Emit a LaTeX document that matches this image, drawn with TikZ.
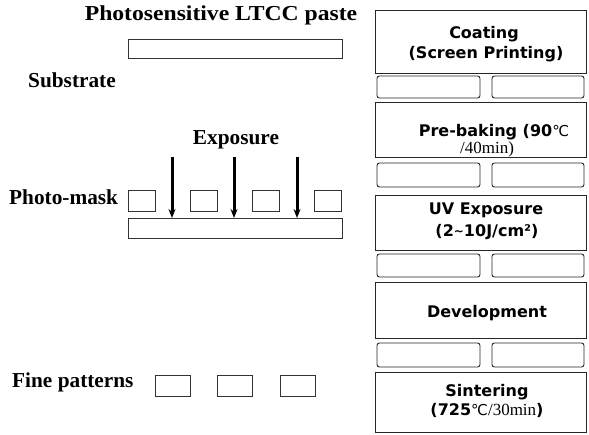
\documentclass[tikz,border=0pt]{standalone}
\usepackage{fontspec}
\setmainfont{Liberation Serif}
\newfontfamily\djsans{DejaVu Sans}
\usetikzlibrary{arrows.meta}
\tikzset{
  lbl/.style={font=\fontsize{21.3}{24}\selectfont\bfseries, inner sep=0pt},
  thinbox/.style={draw=black!80, line width=0.8pt, inner sep=0pt, anchor=north west},
  stepbox/.style={draw=black!85, line width=0.9pt, anchor=north west, minimum width=211pt, inner sep=0pt},
  steptext/.style={inner sep=0pt, font=\djsans\bfseries\fontsize{16}{19}\selectfont},
  band/.style={draw=black!85, line width=0.9pt, rounded corners=2.5pt},
  exparrow/.style={line width=3pt, -{Stealth[length=9pt,width=7pt]}}
}
\newcommand{\srf}[1]{{\normalfont\fontsize{17}{19}\selectfont #1}}
\newcommand{\celsius}{{\djsans\mdseries\fontsize{15}{19}\selectfont ℃}}
\begin{document}
\begin{tikzpicture}[x=1pt,y=-1pt]
\useasboundingbox (0,0) rectangle (589,435);

% ---- left column ----
\node[lbl] (title) at (221,15) {\scalebox{1.11}[1]{Photosensitive LTCC paste}};
\node[thinbox, minimum width=214pt, minimum height=19pt] (paste) at (128,39) {};
\node[lbl, anchor=west] (substrate) at (28,80) {Substrate};

\node[lbl] (exposure) at (236,140) {Exposure};
\node[lbl, anchor=west] (photomask) at (9,197) {Photo-mask};
\foreach \x [count=\i] in {128,190,252,314}
  \node[thinbox, minimum width=27pt, minimum height=21pt] (m\i) at (\x,190) {};
\node[thinbox, minimum width=214pt, minimum height=20pt] (bar) at (128,218) {};
\foreach \x [count=\i] in {172,234,297}{
  \coordinate (a\i) at (\x,157);
  \draw[exparrow] (a\i) -- (a\i |- bar.north);
}

\node[lbl, anchor=west] (fine) at (12,382) {Fine patterns};
\foreach \x [count=\i] in {155,217,280}
  \node[thinbox, minimum width=35pt, minimum height=21pt] (f\i) at (\x,375) {};

% ---- right column ----
\node[stepbox, minimum height=63pt] (b1) at (375,10) {};
\node[stepbox, minimum height=55pt] (b2) at (375,102) {};
\node[stepbox, minimum height=55pt] (b3) at (375,195) {};
\node[stepbox, minimum height=56pt] (b4) at (375,282) {};
\node[stepbox, minimum height=60pt] (b5) at (375,372) {};

\node[steptext] (t1a) at (484,34) {Coating};
\node[steptext] (t1b) at (486,54) {(Screen Printing)};
\node[steptext] (t2a) at (494,132) {Pre-baking (90\celsius};
\node[steptext] (t2b) at (487,149) {\srf{/40min)}};
\node[steptext] (t3a) at (486,210) {UV Exposure};
\node[steptext] (t3b) at (487,232) {(2\raisebox{1pt}{\fontsize{12}{12}\selectfont\textasciitilde}10J/cm²)};
\node[steptext] (t4) at (487,313) {Development};
\node[steptext] (t5a) at (487,392) {Sintering};
\node[steptext] (t5b) at (487,410) {(725\celsius\srf{/30min})};

% hollow block-arrow bands between steps
\foreach \t/\b in {76/98, 163/187, 254/277, 343/367}{
  \draw[band] (377,\t) -- (480,\t) -- (480,\b) -- (377,\b) -- cycle;
  \draw[band] (584,\t) -- (492,\t) -- (492,\b) -- (584,\b) -- cycle;
}
\end{tikzpicture}
\end{document}
